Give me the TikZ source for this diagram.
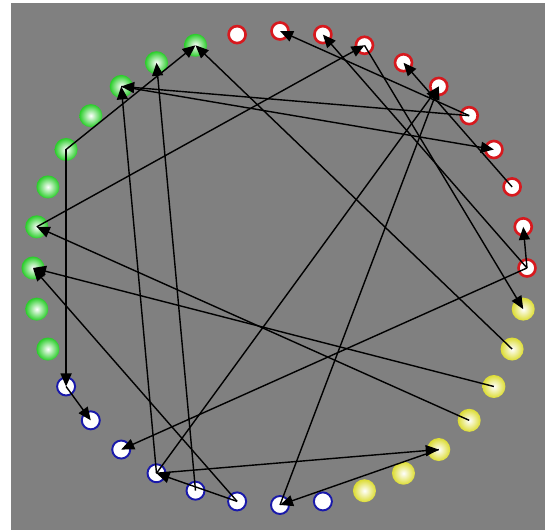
\documentclass[tikz,border=0pt]{standalone}
\usepackage{tikz}
\usetikzlibrary{arrows.meta}
\definecolor{bggray}{RGB}{128,128,128}
\definecolor{ringred}{RGB}{215,25,30}
\definecolor{glowgreen}{RGB}{40,205,40}
\definecolor{ringblue}{RGB}{25,25,170}
\definecolor{glowyellow}{RGB}{220,220,50}

\begin{document}
\begin{tikzpicture}[
  >={Triangle[length=2.6mm,width=2.2mm]},
  rv/.style={circle, draw=ringred, line width=1.5pt, fill=white,
             minimum size=0.34cm, inner sep=0pt},
  gv/.style={circle, inner color=white, outer color=glowgreen,
             minimum size=0.46cm, inner sep=0pt},
  bv/.style={circle, draw=ringblue, line width=1.1pt, fill=white,
             minimum size=0.36cm, inner sep=0pt},
  yv/.style={circle, inner color=white, outer color=glowyellow,
             minimum size=0.46cm, inner sep=0pt},
  lnk/.style={->, black, line width=0.8pt}]
% white margin at left and top, gray field
\useasboundingbox (-5.6,-5.24) rectangle (5.3,5.36);
\fill[white] (-5.6,-5.24) rectangle (5.3,5.36);
\fill[bggray] (-5.38,-5.24) rectangle (5.3,5.3);
% 36 vertices on the ring, 10 degrees apart, counter-clockwise from the right
% --- red ---
\node[rv] (n0) at (0:4.94cm and 4.74cm) {};    \node[rv] (n1) at (10:4.94cm and 4.74cm) {};
\node[rv] (n2) at (20:4.94cm and 4.74cm) {};   \node[rv] (n3) at (30:4.94cm and 4.74cm) {};
\node[rv] (n4) at (40:4.94cm and 4.74cm) {};   \node[rv] (n5) at (50:4.94cm and 4.74cm) {};
\node[rv] (n6) at (60:4.94cm and 4.74cm) {};   \node[rv] (n7) at (70:4.94cm and 4.74cm) {};
\node[rv] (n8) at (80:4.94cm and 4.74cm) {};   \node[rv] (n9) at (90:4.94cm and 4.74cm) {};
\node[rv] (n10) at (100:4.94cm and 4.74cm) {};
% --- green ---
\node[gv] (n11) at (110:4.94cm and 4.74cm) {}; \node[gv] (n12) at (120:4.94cm and 4.74cm) {};
\node[gv] (n13) at (130:4.94cm and 4.74cm) {}; \node[gv] (n14) at (140:4.94cm and 4.74cm) {};
\node[gv] (n15) at (150:4.94cm and 4.74cm) {}; \node[gv] (n16) at (160:4.94cm and 4.74cm) {};
\node[gv] (n17) at (170:4.94cm and 4.74cm) {}; \node[gv] (n18) at (180:4.94cm and 4.74cm) {};
\node[gv] (n19) at (190:4.94cm and 4.74cm) {}; \node[gv] (n20) at (200:4.94cm and 4.74cm) {};
% --- blue ---
\node[bv] (n21) at (210:4.94cm and 4.74cm) {}; \node[bv] (n22) at (220:4.94cm and 4.74cm) {};
\node[bv] (n23) at (230:4.94cm and 4.74cm) {}; \node[bv] (n24) at (240:4.94cm and 4.74cm) {};
\node[bv] (n25) at (250:4.94cm and 4.74cm) {}; \node[bv] (n26) at (260:4.94cm and 4.74cm) {};
\node[bv] (n27) at (270:4.94cm and 4.74cm) {}; \node[bv] (n28) at (280:4.94cm and 4.74cm) {};
% --- yellow ---
\node[yv] (n29) at (290:4.94cm and 4.74cm) {}; \node[yv] (n30) at (300:4.94cm and 4.74cm) {};
\node[yv] (n31) at (310:4.94cm and 4.74cm) {}; \node[yv] (n32) at (320:4.94cm and 4.74cm) {};
\node[yv] (n33) at (330:4.94cm and 4.74cm) {}; \node[yv] (n34) at (340:4.94cm and 4.74cm) {};
\node[yv] (n35) at (350:4.94cm and 4.74cm) {};
% directed links, tips at the vertex centres
\draw[lnk] (n0.center) -- (n1.center);    \draw[lnk] (n0.center) -- (n8.center);
\draw[lnk] (n0.center) -- (n23.center);   \draw[lnk] (n2.center) -- (n6.center);
\draw[lnk] (n4.center) -- (n9.center);    \draw[lnk] (n4.center) -- (n13.center);
\draw[lnk] (n7.center) -- (n35.center);   \draw[lnk] (n13.center) -- (n3.center);
\draw[lnk] (n15.center) -- (n11.center);  \draw[lnk] (n15.center) -- (n21.center);
\draw[lnk] (n17.center) -- (n7.center);   \draw[lnk] (n21.center) -- (n22.center);
\draw[lnk] (n24.center) -- (n13.center);  \draw[lnk] (n24.center) -- (n5.center);
\draw[lnk] (n24.center) -- (n31.center);  \draw[lnk] (n25.center) -- (n12.center);
\draw[lnk] (n26.center) -- (n18.center);  \draw[lnk] (n26.center) -- (n24.center);
\draw[lnk] (n27.center) -- (n5.center);   \draw[lnk] (n31.center) -- (n27.center);
\draw[lnk] (n32.center) -- (n17.center);  \draw[lnk] (n33.center) -- (n18.center);
\draw[lnk] (n34.center) -- (n11.center);
\end{tikzpicture}
\end{document}
